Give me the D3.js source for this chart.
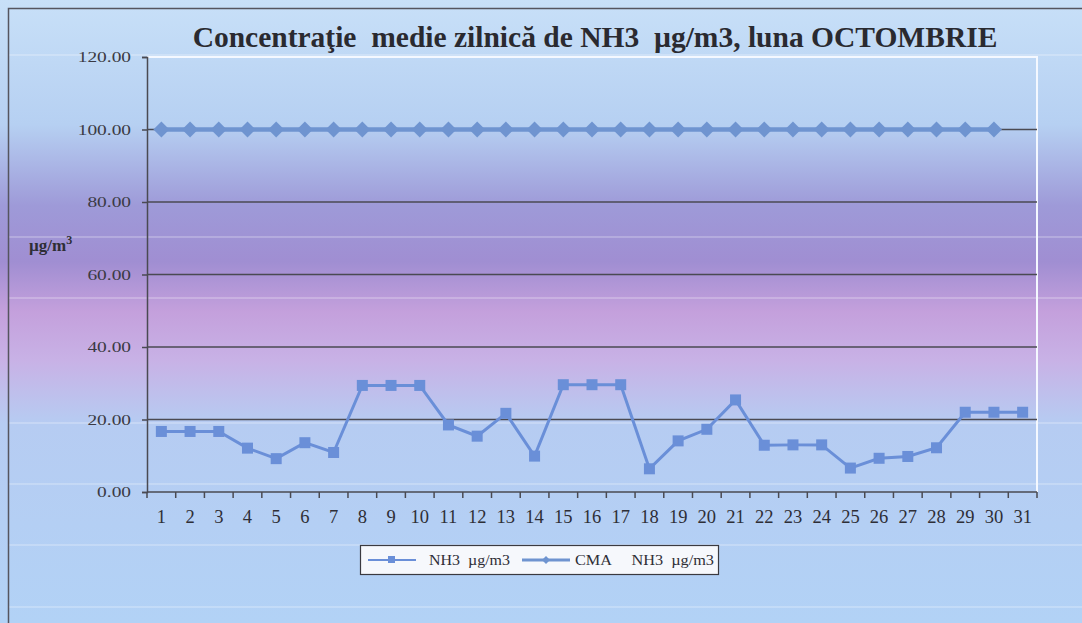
<!DOCTYPE html>
<html>
<head>
<meta charset="utf-8">
<script src="https://cdn.jsdelivr.net/npm/d3@7"></script>
<style>
  body { margin: 0; background: #c4dcf6; }
  svg { display: block; }
  svg text { font-family: "Liberation Serif", "Times New Roman", serif; }
</style>
</head>
<body>
<div id="chart"></div>
<script>
// Data
var days = d3.range(1, 32);
var nh3 = [16.7, 16.7, 16.7, 12.1, 9.2, 13.6, 10.9, 29.4, 29.4, 29.4,
           18.5, 15.4, 21.7, 9.9, 29.6, 29.6, 29.6, 6.4, 14.1, 17.3,
           25.4, 12.9, 13.0, 13.0, 6.6, 9.3, 9.8, 12.2, 22.0, 22.0, 22.0];
var cmaDays = d3.range(1, 31);
var cma = cmaDays.map(function() { return 100; });
var yTicks = [0, 20, 40, 60, 80, 100, 120];

var width = 1082;
var height = 623;

var svg = d3.select("#chart")
    .append("svg")
    .attr("width", width)
    .attr("height", height);

// Background gradient (blue -> purple -> pink -> blue)
var defs = svg.append("defs");
var grad = defs.append("linearGradient")
    .attr("id", "bg")
    .attr("x1", 0).attr("y1", 0).attr("x2", 0).attr("y2", 1);
[[0, "#c8e0f8"], [0.2, "#b6d0f2"], [0.33, "#9e9ad8"], [0.42, "#a08ed2"],
 [0.5, "#c4a0dc"], [0.58, "#c8b2e6"], [0.68, "#b6ccf2"], [1, "#b2d2f6"]]
  .forEach(function(s) {
    grad.append("stop").attr("offset", s[0]).attr("stop-color", s[1]);
  });

svg.append("rect")
    .attr("width", width).attr("height", height)
    .attr("fill", "url(#bg)");

// faint scan streaks
[55, 237, 298, 423, 484, 545, 607].forEach(function(yy) {
  svg.append("line")
      .attr("x1", 9).attr("x2", width)
      .attr("y1", yy).attr("y2", yy)
      .attr("stroke", "#ffffff")
      .attr("stroke-opacity", 0.3)
      .attr("stroke-width", 1.5);
});

// outer frame
svg.append("rect")
    .attr("x", 8.5).attr("y", 8.5)
    .attr("width", width + 20).attr("height", height + 20)
    .attr("fill", "none")
    .attr("stroke", "#55555f")
    .attr("stroke-width", 1.5);

var plotLeft = 147, plotRight = 1037, plotTop = 57, plotBottom = 492;

var x = d3.scaleBand()
    .domain(days)
    .range([plotLeft, plotRight]);
var cx = function(d) { return x(d) + x.bandwidth() / 2; };

var y = d3.scaleLinear()
    .domain([0, 120])
    .range([plotBottom, plotTop]);

// stretch a text horizontally (the reference text is a bit wide)
function stretch(sel, k) {
  sel.each(function() {
    var w = this.getComputedTextLength();
    d3.select(this)
        .attr("textLength", w * k)
        .attr("lengthAdjust", "spacingAndGlyphs");
  });
}

// plot area border (white on top / right)
svg.append("path")
    .attr("d", "M" + plotLeft + "," + plotTop + "H" + plotRight + "V" + plotBottom)
    .attr("fill", "none")
    .attr("stroke", "#f4f8ff")
    .attr("stroke-width", 2);

// gridlines
svg.append("g")
    .selectAll("line")
    .data(yTicks.filter(function(t) { return t > 0 && t < 120; }))
    .enter().append("line")
    .attr("x1", plotLeft).attr("x2", plotRight)
    .attr("y1", function(d) { return y(d); })
    .attr("y2", function(d) { return y(d); })
    .attr("stroke", "#4a4a52")
    .attr("stroke-width", 1.5);

// y axis
var yAxis = d3.axisLeft(y)
    .tickValues(yTicks)
    .tickFormat(d3.format(".2f"))
    .tickSize(5)
    .tickPadding(11);

var yg = svg.append("g")
    .attr("transform", "translate(" + plotLeft + ",0)")
    .call(yAxis);
yg.select(".domain").attr("stroke", "#4a4a52").attr("stroke-width", 1.5);
yg.selectAll(".tick line").attr("stroke", "#4a4a52").attr("stroke-width", 1.5);
yg.selectAll("text")
    .attr("font-size", 15.5)
    .attr("fill", "#3a3a44")
    .attr("font-family", null)
    .call(stretch, 1.25);

// x axis: labels centered, ticks at category edges
var xg = svg.append("g")
    .attr("transform", "translate(0," + plotBottom + ")");
xg.append("line")
    .attr("x1", plotLeft).attr("x2", plotRight)
    .attr("stroke", "#4a4a52").attr("stroke-width", 1.5);
xg.selectAll(".tk")
    .data(days.concat([32]))
    .enter().append("line")
    .attr("class", "tk")
    .attr("x1", function(d) { return d === 32 ? plotRight : x(d); })
    .attr("x2", function(d) { return d === 32 ? plotRight : x(d); })
    .attr("y1", 0).attr("y2", 6)
    .attr("stroke", "#4a4a52").attr("stroke-width", 1.5);
xg.selectAll(".lb")
    .data(days)
    .enter().append("text")
    .attr("class", "lb")
    .attr("x", cx)
    .attr("y", 31)
    .attr("text-anchor", "middle")
    .attr("font-size", 18.5)
    .attr("fill", "#2e2e36")
    .text(function(d) { return d; });

// title
svg.append("text")
    .attr("x", 595)
    .attr("y", 47)
    .attr("text-anchor", "middle")
    .attr("font-size", 29.5)
    .attr("font-weight", "bold")
    .attr("fill", "#2a2a30")
    .style("white-space", "pre")
    .text("Concentraţie  medie zilnică de NH3  µg/m3, luna OCTOMBRIE");

// y label
var yl = svg.append("text")
    .attr("x", 29)
    .attr("y", 251)
    .attr("font-size", 17)
    .attr("font-weight", "bold")
    .attr("fill", "#2e2e36");
yl.append("tspan").text("µg/m");
yl.append("tspan").attr("dy", -7).attr("font-size", 12).text("3");

var lineColor = "#6a8fd8";

// CMA series (diamonds)
var cmaLine = d3.line()
    .x(function(d, i) { return cx(cmaDays[i]); })
    .y(function(d) { return y(d); });
svg.append("path")
    .datum(cma)
    .attr("d", cmaLine)
    .attr("fill", "none")
    .attr("stroke", "#6f94d0")
    .attr("stroke-width", 4.5);
svg.append("g")
    .selectAll("path")
    .data(cma)
    .enter().append("path")
    .attr("d", "M0,-8L8,0L0,8L-8,0Z")
    .attr("transform", function(d, i) {
      return "translate(" + cx(cmaDays[i]) + "," + y(d) + ")";
    })
    .attr("fill", "#6f94d0");

// NH3 series (squares)
var nh3Line = d3.line()
    .x(function(d, i) { return cx(days[i]); })
    .y(function(d) { return y(d); });
svg.append("path")
    .datum(nh3)
    .attr("d", nh3Line)
    .attr("fill", "none")
    .attr("stroke", lineColor)
    .attr("stroke-width", 3);
svg.append("g")
    .selectAll("rect")
    .data(nh3)
    .enter().append("rect")
    .attr("x", function(d, i) { return cx(days[i]) - 5.5; })
    .attr("y", function(d) { return y(d) - 5.5; })
    .attr("width", 11).attr("height", 11)
    .attr("fill", lineColor);

// legend
var lg = svg.append("g");
lg.append("rect")
    .attr("x", 360.5).attr("y", 545.5)
    .attr("width", 358).attr("height", 29)
    .attr("fill", "#f6f8fc")
    .attr("stroke", "#3a3a40")
    .attr("stroke-width", 1.2);
lg.append("line")
    .attr("x1", 368).attr("x2", 416).attr("y1", 560).attr("y2", 560)
    .attr("stroke", lineColor).attr("stroke-width", 2);
lg.append("rect")
    .attr("x", 388).attr("y", 556).attr("width", 7).attr("height", 7)
    .attr("fill", lineColor);
lg.append("text")
    .attr("x", 429).attr("y", 565)
    .attr("font-size", 14).attr("fill", "#2e2e36")
    .attr("textLength", 81)
    .attr("lengthAdjust", "spacingAndGlyphs")
    .style("white-space", "pre")
    .text("NH3  µg/m3");
lg.append("line")
    .attr("x1", 522).attr("x2", 570).attr("y1", 560).attr("y2", 560)
    .attr("stroke", "#6f94d0").attr("stroke-width", 3);
lg.append("path")
    .attr("d", "M0,-4L4,0L0,4L-4,0Z")
    .attr("transform", "translate(546,560)")
    .attr("fill", "#6f94d0");
lg.append("text")
    .attr("x", 575).attr("y", 565)
    .attr("font-size", 14).attr("fill", "#2e2e36")
    .attr("textLength", 139)
    .attr("lengthAdjust", "spacingAndGlyphs")
    .style("white-space", "pre")
    .text("CMA     NH3  µg/m3");
</script>
</body>
</html>
